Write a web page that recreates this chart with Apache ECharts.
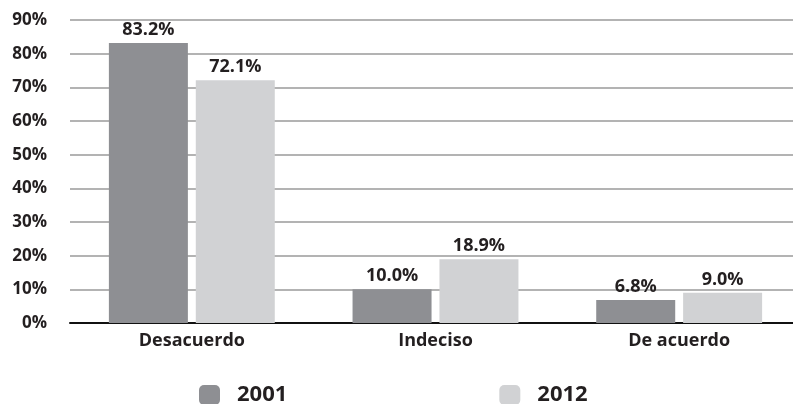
<!DOCTYPE html>
<html>
<head>
<meta charset="utf-8">
<script src="https://cdn.jsdelivr.net/npm/echarts@6/dist/echarts.min.js"></script>
<style>
  html, body { margin: 0; padding: 0; background: #fff; }
  #chart { width: 793px; height: 404px; }
</style>
</head>
<body>
<div id="chart"></div>
<script>
const categories = ["Desacuerdo", "Indeciso", "De acuerdo"];
const values2001 = [83.2, 10.0, 6.8];
const values2012 = [72.1, 18.9, 9.0];
const yTicks = [0, 10, 20, 30, 40, 50, 60, 70, 80, 90];

const chart = echarts.init(document.getElementById("chart"));
const txt = "#231f20";
const font = "Open Sans";

const label = {
  show: true,
  position: "top",
  distance: 4,
  color: txt,
  fontFamily: font,
  fontWeight: "bold",
  fontSize: 18,
  formatter: p => p.value.toFixed(1) + "%"
};

chart.setOption({
  animation: false,
  grid: { left: 70, width: 731, top: 20, height: 303, outerBoundsMode: "none" },
  legend: {
    left: 199,
    top: 384,
    padding: 0,
    itemWidth: 21,
    itemHeight: 20,
    itemGap: 212,
    itemStyle: { borderWidth: 0 },
    textStyle: { color: txt, fontFamily: font, fontWeight: "bold", fontSize: 22, lineHeight: 20, padding: [0, 0, 0, 12] },
    data: ["2001", "2012"]
  },
  xAxis: {
    type: "category",
    data: categories,
    axisLine: { lineStyle: { color: "#111", width: 2 } },
    axisTick: { show: false },
    axisLabel: { color: txt, fontFamily: font, fontWeight: "bold", fontSize: 18, margin: 9 }
  },
  yAxis: {
    type: "value",
    min: yTicks[0],
    max: yTicks[yTicks.length - 1],
    interval: 10,
    axisLine: { show: false },
    axisTick: { show: false },
    splitLine: { lineStyle: { color: "#b3b3b3", width: 2 } },
    axisLabel: { color: txt, fontFamily: font, fontWeight: "bold", fontSize: 17, margin: 23, formatter: "{value}%" }
  },
  series: [
    {
      name: "2001",
      type: "bar",
      data: values2001,
      barWidth: 79,
      barGap: "10%",
      itemStyle: { color: "#8e8f93" },
      label: label
    },
    {
      name: "2012",
      type: "bar",
      data: values2012,
      barWidth: 79,
      itemStyle: { color: "#d1d2d4" },
      label: label
    }
  ]
});
</script>
</body>
</html>
